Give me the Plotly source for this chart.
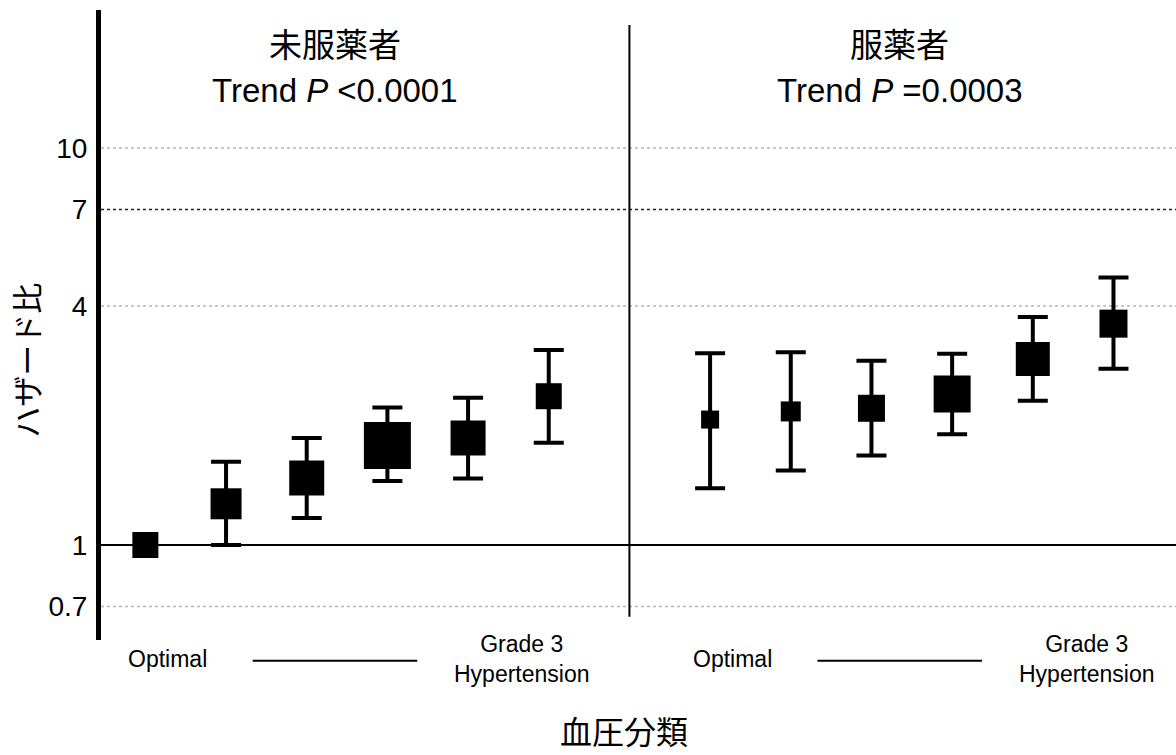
import plotly.graph_objects as go

# ---- data ----
group_names = ["未服薬者", "服薬者"]
trend_p = ["<0.0001", "=0.0003"]
bp_categories = ["Optimal", "Normal", "High-normal", "Grade 1", "Grade 2", "Grade 3"]

hr_untreated = [1.00, 1.27, 1.475, 1.78, 1.86, 2.37]
lo_untreated = [1.00, 1.00, 1.17, 1.45, 1.47, 1.81]
hi_untreated = [1.00, 1.62, 1.86, 2.22, 2.35, 3.10]

hr_treated = [2.07, 2.17, 2.21, 2.40, 2.94, 3.61]
lo_treated = [1.39, 1.54, 1.68, 1.90, 2.31, 2.78]
hi_treated = [3.04, 3.06, 2.91, 3.03, 3.75, 4.72]

# square size (reflects weight)
size_untreated = [26, 31, 35, 47, 35, 26]
size_treated = [18, 20, 27, 37, 34, 28]

y_ticks = [0.7, 1, 4, 7, 10]
y_tick_text = ["0.7", "1", "4", "7", "10"]

# ---- positions ----
n = len(bp_categories)
x_untreated = list(range(n))
x_treated = [i + n + 1 for i in range(n)]
x_divider = n

FONT = "Liberation Sans, Arial, Noto Sans CJK JP"

fig = go.Figure()

def err(hr, lo, hi):
    return [h - m for m, h in zip(hr, hi)], [m - l for m, l in zip(hr, lo)]

# reference point (no CI)
fig.add_trace(go.Scatter(
    x=x_untreated[:1], y=hr_untreated[:1], mode="markers",
    marker=dict(symbol="square", size=size_untreated[:1], color="black",
                opacity=1, line=dict(width=0)),
    showlegend=False, hoverinfo="skip"))

up, dn = err(hr_untreated[1:], lo_untreated[1:], hi_untreated[1:])
fig.add_trace(go.Scatter(
    x=x_untreated[1:], y=hr_untreated[1:], mode="markers",
    marker=dict(symbol="square", size=size_untreated[1:], color="black",
                opacity=1, line=dict(width=0)),
    error_y=dict(type="data", symmetric=False, array=up, arrayminus=dn,
                 color="black", thickness=4, width=15),
    showlegend=False, hoverinfo="skip"))

up, dn = err(hr_treated, lo_treated, hi_treated)
fig.add_trace(go.Scatter(
    x=x_treated, y=hr_treated, mode="markers",
    marker=dict(symbol="square", size=size_treated, color="black",
                opacity=1, line=dict(width=0)),
    error_y=dict(type="data", symmetric=False, array=up, arrayminus=dn,
                 color="black", thickness=4, width=15),
    showlegend=False, hoverinfo="skip"))

shapes = []
# horizontal reference lines from tick values
for v in y_ticks:
    if v == 1:
        ln = dict(color="black", width=2)
    elif v == 7:
        ln = dict(color="#222222", width=1.3, dash="dot")
    else:
        ln = dict(color="#b5b5b5", width=1.3, dash="dot")
    shapes.append(dict(type="line", xref="paper", yref="y", x0=0, x1=1, y0=v, y1=v,
                       line=ln, layer="below"))
# divider between groups
shapes.append(dict(type="line", xref="x", yref="paper", x0=x_divider, x1=x_divider,
                   y0=0.037, y1=0.976, line=dict(color="black", width=2)))
# bottom connecting lines
for xs in (x_untreated, x_treated):
    shapes.append(dict(type="line", xref="x", yref="paper",
                       x0=xs[0] + 1.33, x1=xs[0] + 3.37, y0=-0.033, y1=-0.033,
                       line=dict(color="black", width=2)))

annotations = []
for xs, name, p in zip((x_untreated, x_treated), group_names, trend_p):
    cx = xs[0] + 2.35
    annotations.append(dict(x=cx, y=0.944, xref="x", yref="paper", text=name,
                            yanchor="middle", showarrow=False,
                            font=dict(size=33, family=FONT, color="black")))
    annotations.append(dict(x=cx, y=0.872, xref="x", yref="paper",
                            text=f"Trend <i>P</i> {p}", yanchor="middle", showarrow=False,
                            font=dict(size=33, family=FONT, color="black")))
    annotations.append(dict(x=xs[0] + 0.28, y=-0.030, xref="x", yref="paper",
                            text=bp_categories[0], yanchor="middle", showarrow=False,
                            font=dict(size=23, family=FONT, color="black")))
    annotations.append(dict(x=xs[0] + 4.67, y=-0.030, xref="x", yref="paper",
                            text="Grade 3<br>Hypertension", yanchor="middle", showarrow=False,
                            font=dict(size=23, family=FONT, color="black")))

annotations.append(dict(x=0.4865, y=-0.148, xref="paper", yref="paper", text="血圧分類",
                        yanchor="middle", showarrow=False,
                        font=dict(size=32, family=FONT, color="black")))
annotations.append(dict(x=-0.0674, y=0.444, xref="paper", yref="paper", text="ハザード比",
                        textangle=-90, xanchor="center", yanchor="middle", showarrow=False,
                        font=dict(size=31, family=FONT, color="black")))

fig.update_layout(
    width=1176, height=755,
    margin=dict(l=101, r=0, t=10, b=115),
    paper_bgcolor="white", plot_bgcolor="white",
    font=dict(family=FONT, color="black"),
    shapes=shapes, annotations=annotations,
    xaxis=dict(range=[-0.55, 12.775], showgrid=False, zeroline=False, showline=False,
               showticklabels=False, ticks=""),
    yaxis=dict(type="log", range=[-0.2393, 1.3476], tickvals=y_ticks, ticktext=y_tick_text,
               showgrid=False, showline=True, linecolor="black", linewidth=5, ticks="",
               ticklabelstandoff=3, tickfont=dict(size=28, family=FONT, color="black"),
               zeroline=False),
)

fig.write_html("out.html")
